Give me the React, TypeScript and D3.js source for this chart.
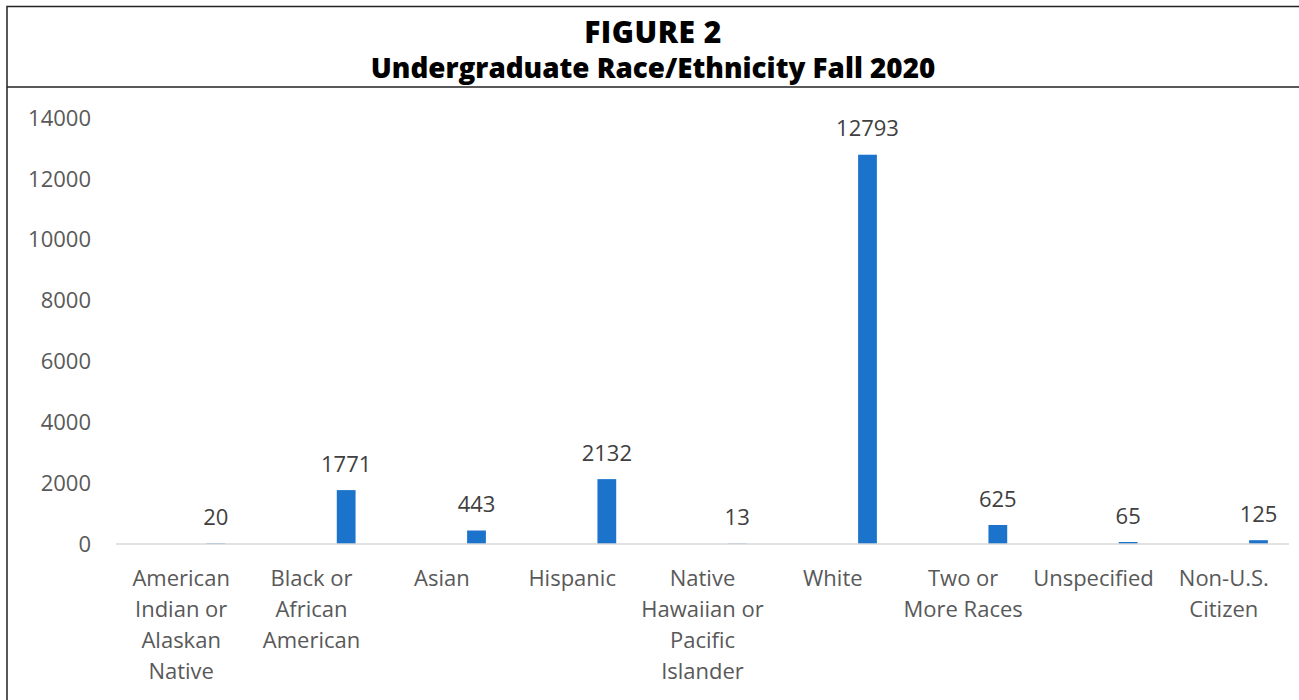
import { useMemo } from "react";
import * as d3 from "d3";

const categories = [
  ["American", "Indian or", "Alaskan", "Native"],
  ["Black or", "African", "American"],
  ["Asian"],
  ["Hispanic"],
  ["Native", "Hawaiian or", "Pacific", "Islander"],
  ["White"],
  ["Two or", "More Races"],
  ["Unspecified"],
  ["Non-U.S.", "Citizen"],
];
const enrollment = [20, 1771, 443, 2132, 13, 12793, 625, 65, 125];
const yTicks = [0, 2000, 4000, 6000, 8000, 10000, 12000, 14000];
const titleLines = ["FIGURE 2", "Undergraduate Race/Ethnicity Fall 2020"];

const W = 1299;
const H = 700;
const font = "'Open Sans', 'Noto Sans', sans-serif";

export default function App() {
  const margin = { left: 116, right: 10, top: 118, bottom: 156 };
  const plotRight = 1289;

  const keys = categories.map((_, i) => String(i));
  const x = useMemo(
    () => d3.scaleBand().domain(keys).range([margin.left, plotRight]),
    []
  );
  const y = useMemo(
    () => d3.scaleLinear().domain([0, 14000]).range([H - margin.bottom, margin.top]),
    []
  );
  // bar sits right of category centre (empty series slots in the original)
  const barW = x.bandwidth() * 0.144;
  const barOffset = x.bandwidth() * 0.266;
  const base = y(0);

  return (
    <svg
      width={W}
      height={H}
      style={{ position: "absolute", left: 0, top: 0, background: "#fff" }}
    >
      {/* frame */}
      <rect x={7} y={6.5} width={W + 20} height={H + 20} fill="none" stroke="#222" strokeWidth={1.5} />
      <line x1={7} x2={W} y1={87} y2={87} stroke="#222" strokeWidth={1.5} />

      {titleLines.map((t, i) => (
        <text
          key={t}
          x={653}
          y={32 + i * 36}
          dy="0.35em"
          textAnchor="middle"
          fontFamily={font}
          fontWeight={800}
          fontSize={i === 0 ? 30 : 27.8}
          letterSpacing={i === 0 ? 0.5 : 0}
          fill="#000"
        >
          {t}
        </text>
      ))}

      {/* y axis labels */}
      {yTicks.map((t) => (
        <text
          key={t}
          x={91}
          y={y(t)}
          dy="0.35em"
          textAnchor="end"
          fontFamily={font}
          fontSize={22}
          fill="#595959"
        >
          {t}
        </text>
      ))}

      {/* bars */}
      {enrollment.map((v, i) => {
        const cx = (x(keys[i]) ?? 0) + x.bandwidth() / 2 + barOffset;
        return (
          <g key={i}>
            <rect x={cx - barW / 2} y={y(v)} width={barW} height={base - y(v)} fill="#1B73CC" />
            <text
              x={cx}
              y={y(v) - 26}
              dy="0.35em"
              textAnchor="middle"
              fontFamily={font}
              fontSize={22}
              fill="#404040"
            >
              {v}
            </text>
          </g>
        );
      })}

      {/* baseline */}
      <line x1={margin.left} x2={plotRight} y1={base} y2={base} stroke="#d9d9d9" strokeWidth={1.5} />

      {/* category labels */}
      {categories.map((lines, i) => {
        const cx = (x(keys[i]) ?? 0) + x.bandwidth() / 2;
        return (
          <text
            key={i}
            textAnchor="middle"
            fontFamily={font}
            fontSize={22}
            fill="#595959"
          >
            {lines.map((l, j) => (
              <tspan key={j} x={cx} y={578 + j * 31} dy="0.35em">
                {l}
              </tspan>
            ))}
          </text>
        );
      })}
    </svg>
  );
}
